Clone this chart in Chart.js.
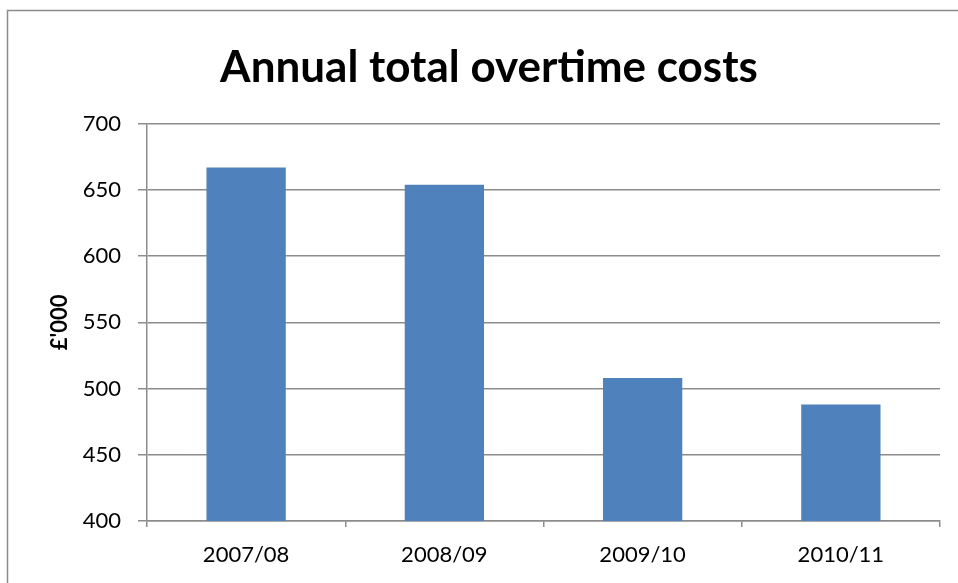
<!DOCTYPE html>
<html>
<head>
<meta charset="utf-8">
<script src="https://cdn.jsdelivr.net/npm/chart.js@4"></script>
<style>
  html, body { margin: 0; padding: 0; background: #fff; }
  #wrap { width: 958px; height: 583px; }
</style>
</head>
<body>
<div id="wrap"><canvas id="myChart" width="958" height="583"></canvas></div>
<script>
// data
var years = ['2007/08', '2008/09', '2009/10', '2010/11'];
var overtime_costs = [667, 654, 508, 488];
var y_ticks = [400, 450, 500, 550, 600, 650, 700];

var FONT = 'Lato, "Liberation Sans", sans-serif';

// grey frame round the chart (only top and left edge show in the picture)
var framePlugin = {
  id: 'frame',
  beforeDraw(chart) {
    var ctx = chart.ctx;
    ctx.save();
    ctx.fillStyle = '#fff';
    ctx.fillRect(0, 0, chart.width, chart.height);
    ctx.strokeStyle = '#8c8c8c';
    ctx.lineWidth = 1.5;
    ctx.beginPath();
    ctx.moveTo(7.5, chart.height);
    ctx.lineTo(7.5, 10.5);
    ctx.lineTo(chart.width, 10.5);
    ctx.stroke();
    ctx.restore();
  }
};

var ctx = document.getElementById('myChart').getContext('2d');
var myChart = new Chart(ctx, {
  type: 'bar',
  data: {
    labels: years,
    datasets: [{
      label: "£'000",
      data: overtime_costs,
      backgroundColor: '#4f81bd',
      borderWidth: 0,
      categoryPercentage: 0.8,
      barPercentage: 0.5,
      yAxisID: 'y'
    }]
  },
  options: {
    responsive: false,
    animation: false,
    layout: { padding: { left: 20, right: 0, top: 0, bottom: 0 } },
    plugins: {
      legend: { display: false },
      tooltip: { enabled: false },
      title: {
        display: true,
        text: 'Annual total overtime costs',
        color: '#000',
        font: { family: FONT, size: 44, weight: 'bold' },
        padding: { top: 41, bottom: 30 }
      }
    },
    scales: {
      x: {
        grid: { display: true, drawOnChartArea: false, color: '#8c8c8c', lineWidth: 1.5, tickLength: 6 },
        border: { color: '#8c8c8c', width: 1.5 },
        ticks: { color: '#000', font: { family: FONT, size: 22 }, padding: 15, maxRotation: 0 },
        afterFit(scale) { scale.height = 62; }
      },
      y: {
        min: 400,
        max: 700,
        afterBuildTicks(scale) { scale.ticks = y_ticks.map(v => ({ value: v })); },
        grid: { color: '#8c8c8c', lineWidth: 1.5, tickLength: 9 },
        border: { color: '#8c8c8c', width: 1.5 },
        ticks: { color: '#000', font: { family: FONT, size: 22 }, padding: 17 },
        title: {
          display: true,
          text: "£'000",
          color: '#000',
          font: { family: FONT, size: 22, weight: 'bold' },
          padding: { top: 27, bottom: 0 }
        },
        afterFit(scale) { scale.width = 127; }
      },
      // empty right-hand gap so the plot ends where the reference's does
      yr: {
        position: 'right',
        grid: { display: false, drawTicks: false },
        border: { display: false },
        ticks: { display: false },
        afterFit(scale) { scale.width = 18; }
      }
    }
  },
  plugins: [framePlugin]
});
</script>
</body>
</html>
